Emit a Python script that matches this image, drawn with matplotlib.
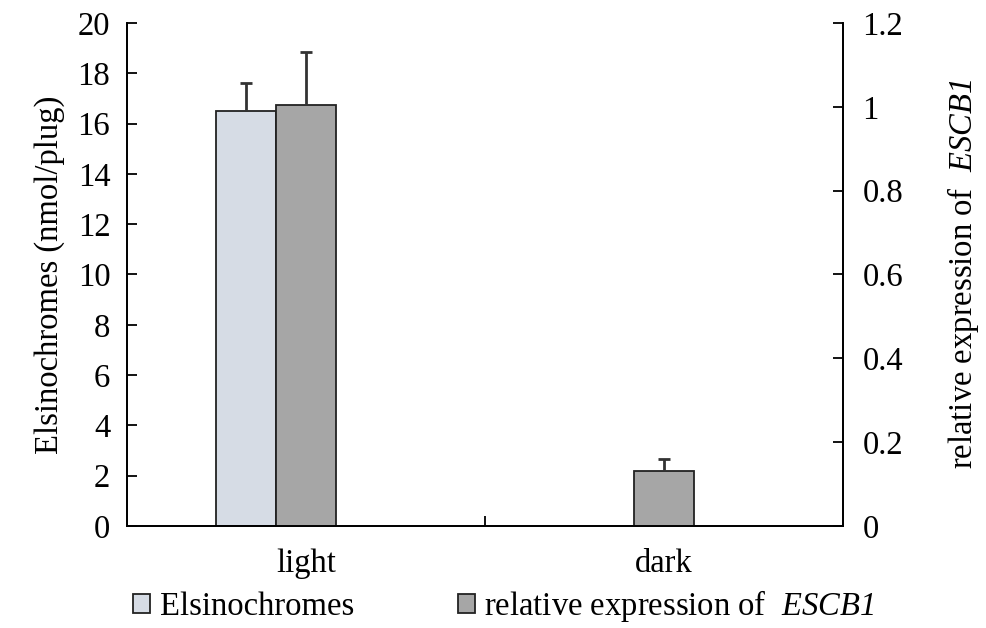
import numpy as np
import matplotlib
matplotlib.use('Agg')
import matplotlib.pyplot as plt
from matplotlib.patches import Patch

plt.rcParams['font.family'] = 'Liberation Serif'
plt.rcParams['mathtext.fontset'] = 'custom'
plt.rcParams['mathtext.rm'] = 'Liberation Serif:italic'
plt.rcParams['mathtext.it'] = 'Liberation Serif:italic'

# data
groups = ['light', 'dark']
elsino = [16.5, 0]
elsino_err = [1.1, 0]
escb1 = [1.005, 0.131]
escb1_err = [0.125, 0.029]

fs = 23.5
x = np.arange(len(groups))
w = 0.168

fig = plt.figure(figsize=(9.87, 6.28), dpi=100)
ax = fig.add_axes([0.1287, 0.1624, 0.7253, 0.801])
ax2 = ax.twinx()

b1 = ax.bar(x - w, elsino, w, color='#d6dce5', edgecolor='#222222', linewidth=1.3,
            yerr=[np.zeros(2), elsino_err], capsize=4,
            error_kw=dict(ecolor='#333333', elinewidth=2, capthick=2))
b2 = ax2.bar(x, escb1, w, color='#a6a6a6', edgecolor='#222222', linewidth=1.3,
             yerr=[np.zeros(2), escb1_err], capsize=4,
             error_kw=dict(ecolor='#333333', elinewidth=2, capthick=2))

# only the upper caps
for b in (b1, b2):
    caps = b.errorbar.lines[1]
    caps[0].set_visible(False)

# hide the zero-height elsinochromes bar in dark
ax.patches[1].set_visible(False)
b1.errorbar.lines[1][1].set_markevery([0])

ax.set_xlim(-0.5, 1.5)
ax.set_ylim(0, 20)
ax2.set_ylim(0, 1.2)
ax.set_yticks(np.arange(0, 21, 2))
ax2.set_yticks([0, 0.2, 0.4, 0.6, 0.8, 1, 1.2])
ax2.set_yticklabels(['0', '0.2', '0.4', '0.6', '0.8', '1', '1.2'])

ax.set_xticks([0.5])
ax.set_xticklabels([''])
for xi, g in zip(x, groups):
    ax.text(xi, -0.045, g, transform=ax.get_xaxis_transform(), ha='center', va='top', fontsize=fs)

for a in (ax, ax2):
    a.tick_params(direction='in', length=7, width=1.3, labelsize=fs)
    for s in a.spines.values():
        s.set_linewidth(1.3)
    a.spines['top'].set_visible(False)
ax.tick_params(axis='y', pad=12)
ax2.tick_params(axis='y', pad=14)

ax.set_ylabel('Elsinochromes (nmol/plug)', fontsize=fs, labelpad=9)
ax2.set_ylabel('relative expression of  $ESCB1$', fontsize=fs, labelpad=30)

handles = [Patch(facecolor='#d6dce5', edgecolor='#222222', linewidth=1.3),
           Patch(facecolor='#a6a6a6', edgecolor='#222222', linewidth=1.3)]
labels = ['Elsinochromes', 'relative expression of  $ESCB1$']
fig.legend(handles, labels, loc='center left', bbox_to_anchor=(0.122, 0.035), ncol=2,
           frameon=False, fontsize=fs, handlelength=0.5, handleheight=0.5,
           handletextpad=0.3, columnspacing=3.2, borderaxespad=0)

fig.savefig('out.png', dpi=100)
